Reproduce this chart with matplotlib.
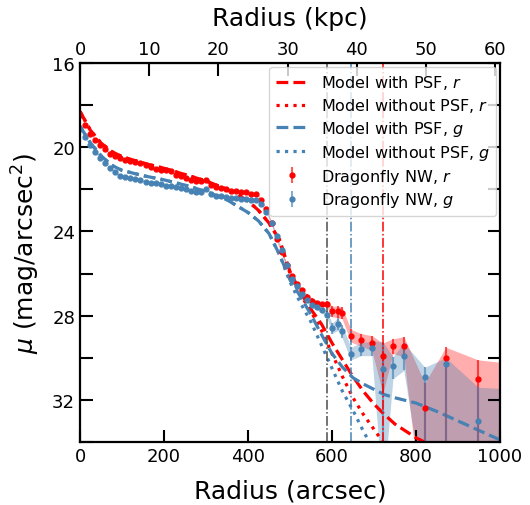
import matplotlib

matplotlib.use("Agg")
import matplotlib.pyplot as plt
import numpy as np
from matplotlib.ticker import MultipleLocator

# Dragonfly NW surface brightness profile (arcsec, mag/arcsec^2)
radius = np.array([
    0, 12, 24, 36, 48, 60, 72, 84, 96, 108, 120, 132, 144, 156, 168, 180,
    192, 204, 216, 228, 240, 252, 264, 276, 288, 300, 312, 324, 336, 348,
    360, 372, 384, 396, 408, 420, 432, 444, 456, 468, 480, 492, 504, 516,
    528, 540, 552, 564, 576,
    588, 600, 614, 624, 645, 669, 695, 721, 745, 771, 821, 871, 948, 1040,
])
mu_r = np.array([
    18.45, 18.95, 19.35, 19.65, 19.9, 20.1, 20.3, 20.4, 20.5, 20.6, 20.65,
    20.7, 20.75, 20.85, 20.95, 21.05, 21.1, 21.1, 21.15, 21.3, 21.35, 21.45,
    21.55, 21.6, 21.6, 21.55, 21.8, 21.9, 21.95, 22.0, 22.1, 22.1, 22.15,
    22.15, 22.2, 22.2, 22.5, 22.95, 23.6, 24.35, 25.0, 25.6, 26.1, 26.5,
    26.8, 27.1, 27.3, 27.4, 27.45,
    27.45, 27.8, 27.8, 27.85, 28.95, 29.15, 29.3, 29.9, 29.45, 29.45, 32.4,
    30.0, 31.0, 31.5,
])
mu_g = np.array([
    19.15, 19.5, 19.9, 20.25, 20.5, 20.75, 21.0, 21.2, 21.35, 21.4, 21.45,
    21.5, 21.55, 21.65, 21.7, 21.7, 21.75, 21.85, 21.85, 21.9, 21.95, 22.0,
    22.1, 22.15, 22.15, 22.0, 22.2, 22.3, 22.3, 22.35, 22.4, 22.4, 22.45,
    22.45, 22.5, 22.5, 22.7, 23.1, 23.6, 24.2, 24.9, 25.6, 26.25, 26.6,
    26.95, 27.25, 27.5, 27.6, 27.75,
    27.95, 28.6, 28.4, 28.75, 29.8, 29.6, 29.55, 30.55, 30.4, 29.9, 30.9,
    30.3, 33.0, 33.5,
])
inner_err = [
    0.03, 0.03, 0.03, 0.03, 0.03, 0.03, 0.03, 0.03, 0.03, 0.03, 0.03, 0.03,
    0.03, 0.03, 0.03, 0.03, 0.03, 0.03, 0.03, 0.03, 0.03, 0.03, 0.03, 0.03,
    0.03, 0.03, 0.03, 0.03, 0.03, 0.03, 0.03, 0.03, 0.03, 0.03, 0.03, 0.04,
    0.05, 0.06, 0.07, 0.08, 0.08, 0.09, 0.1, 0.1, 0.1, 0.12, 0.12, 0.12, 0.12,
]
err_r_up = np.array(inner_err + [0.15, 0.25, 0.25, 0.25, 0.3, 0.3, 0.35, 0.6, 0.35, 0.45, 1.2, 0.5, 0.9, 1.2])
err_r_lo = np.array(inner_err + [0.15, 0.25, 0.3, 0.3, 0.3, 0.3, 0.35, 1.8, 0.35, 0.5, 6.0, 6.0, 6.0, 6.0])
err_g_up = np.array(inner_err + [0.15, 0.25, 0.3, 0.3, 0.3, 0.3, 0.35, 1.3, 0.45, 0.6, 0.45, 0.3, 1.6, 2.0])
err_g_lo = np.array(inner_err + [0.15, 0.25, 0.3, 0.3, 0.3, 0.3, 0.35, 6.0, 0.6, 0.7, 6.0, 6.0, 6.0, 6.0])

# model profiles
model_x = [0, 25, 50, 75, 100, 150, 200, 250, 300, 350, 375, 400, 425, 450,
           475, 500, 525, 550, 575, 600, 625, 650, 675, 700, 725, 750, 800,
           850, 900, 950, 1000]
psf_r = [18.3, 19.2, 19.8, 20.2, 20.45, 20.75, 21.0, 21.3, 21.6, 22.0, 22.25,
         22.55, 23.0, 23.6, 24.4, 25.9, 26.9, 27.7, 28.4, 29.3, 30.1, 30.9,
         31.6, 32.2, 32.7, 33.15, 33.8, 34.3, 34.8, 35.2, 35.6]
nopsf_r = [18.3, 19.2, 19.8, 20.2, 20.45, 20.75, 21.0, 21.3, 21.6, 22.0, 22.25,
           22.55, 23.0, 23.6, 24.4, 26.0, 27.0, 27.8, 28.7, 29.8, 30.9, 31.9,
           32.7, 33.4, 34.1, 34.8, 36.0, 37.0, 38.0, 39.0, 40.0]
psf_g = [19.0, 19.8, 20.4, 20.85, 21.1, 21.35, 21.55, 21.8, 22.1, 22.5, 22.8,
         23.1, 23.5, 24.1, 25.1, 26.3, 27.1, 27.95, 28.9, 29.8, 30.45, 30.95,
         31.25, 31.5, 31.75, 31.9, 32.15, 32.55, 33.0, 33.45, 33.9]
nopsf_g = [19.0, 19.8, 20.4, 20.85, 21.1, 21.35, 21.55, 21.8, 22.1, 22.5, 22.8,
           23.1, 23.5, 24.1, 25.1, 26.4, 27.4, 28.3, 29.4, 30.5, 31.6, 32.5,
           33.5, 34.4, 35.3, 36.2, 38.0, 39.5, 41.0, 42.5, 44.0]

kpc_ticks = [0, 10, 20, 30, 40, 50, 60]

# radii marking where each profile hits its limit
r_lim_black, r_lim_g, r_lim_r = 588, 645, 721
KPC_PER_ARCSEC = 0.0607

fig = plt.figure(figsize=(5.3, 5.06), dpi=100)
ax = fig.add_axes([80 / 530, 63 / 506, 420 / 530, 379 / 506])

ax.fill_between(radius, mu_r - err_r_up, mu_r + err_r_lo, color="red", alpha=0.32, lw=0)
ax.fill_between(radius, mu_g - err_g_up, mu_g + err_g_lo, color="steelblue", alpha=0.35, lw=0)

ax.plot(model_x, psf_r, ls="--", color="red", lw=2.3, label="Model with PSF, $r$")
ax.plot(model_x, nopsf_r, ls=":", color="red", lw=2.3, label="Model without PSF, $r$")
ax.plot(model_x, psf_g, ls="--", color="steelblue", lw=2.3, label="Model with PSF, $g$")
ax.plot(model_x, nopsf_g, ls=":", color="steelblue", lw=2.3, label="Model without PSF, $g$")

ax.errorbar(radius, mu_r, yerr=[err_r_up, err_r_lo], fmt="o", color="red", ms=3.5,
            ecolor=(1, 0, 0, 0.65), elinewidth=1.5, capsize=0, label="Dragonfly NW, $r$")
ax.errorbar(radius, mu_g, yerr=[err_g_up, err_g_lo], fmt="o", color="steelblue", ms=3.5,
            ecolor=(0.27, 0.51, 0.71, 0.65), elinewidth=1.5, capsize=0, label="Dragonfly NW, $g$")

ax.axvline(r_lim_black, color="0.3", ls="-.", lw=1.1)
ax.axvline(r_lim_g, color="steelblue", ls="-.", lw=1.1)
ax.axvline(r_lim_r, color="red", ls="-.", lw=1.1)

ax.set_xlim(0, 1000)
ax.set_ylim(34, 16)
ax.xaxis.set_major_locator(MultipleLocator(200))
ax.yaxis.set_major_locator(MultipleLocator(4))
ax.yaxis.set_minor_locator(MultipleLocator(2))
ax.tick_params(which="both", direction="in", length=9, width=1.5, labelsize=13,
               right=True, top=False)
for s in ax.spines.values():
    s.set_linewidth(1.6)

ax.set_xlabel("Radius (arcsec)", fontsize=18, labelpad=10)
ax.set_ylabel(r"$\mu$ (mag/arcsec$^2$)", fontsize=18, labelpad=7)

top = ax.secondary_xaxis("top", functions=(lambda a: a * KPC_PER_ARCSEC,
                                           lambda k: k / KPC_PER_ARCSEC))
top.set_xticks(kpc_ticks)
top.tick_params(direction="in", length=9, width=1.5, labelsize=13)
top.set_xlabel("Radius (kpc)", fontsize=18, labelpad=11)

ax.legend(loc="upper right", borderaxespad=0.25, fontsize=11.5, labelspacing=0.3,
          frameon=True)

fig.savefig("out.png", dpi=100)
